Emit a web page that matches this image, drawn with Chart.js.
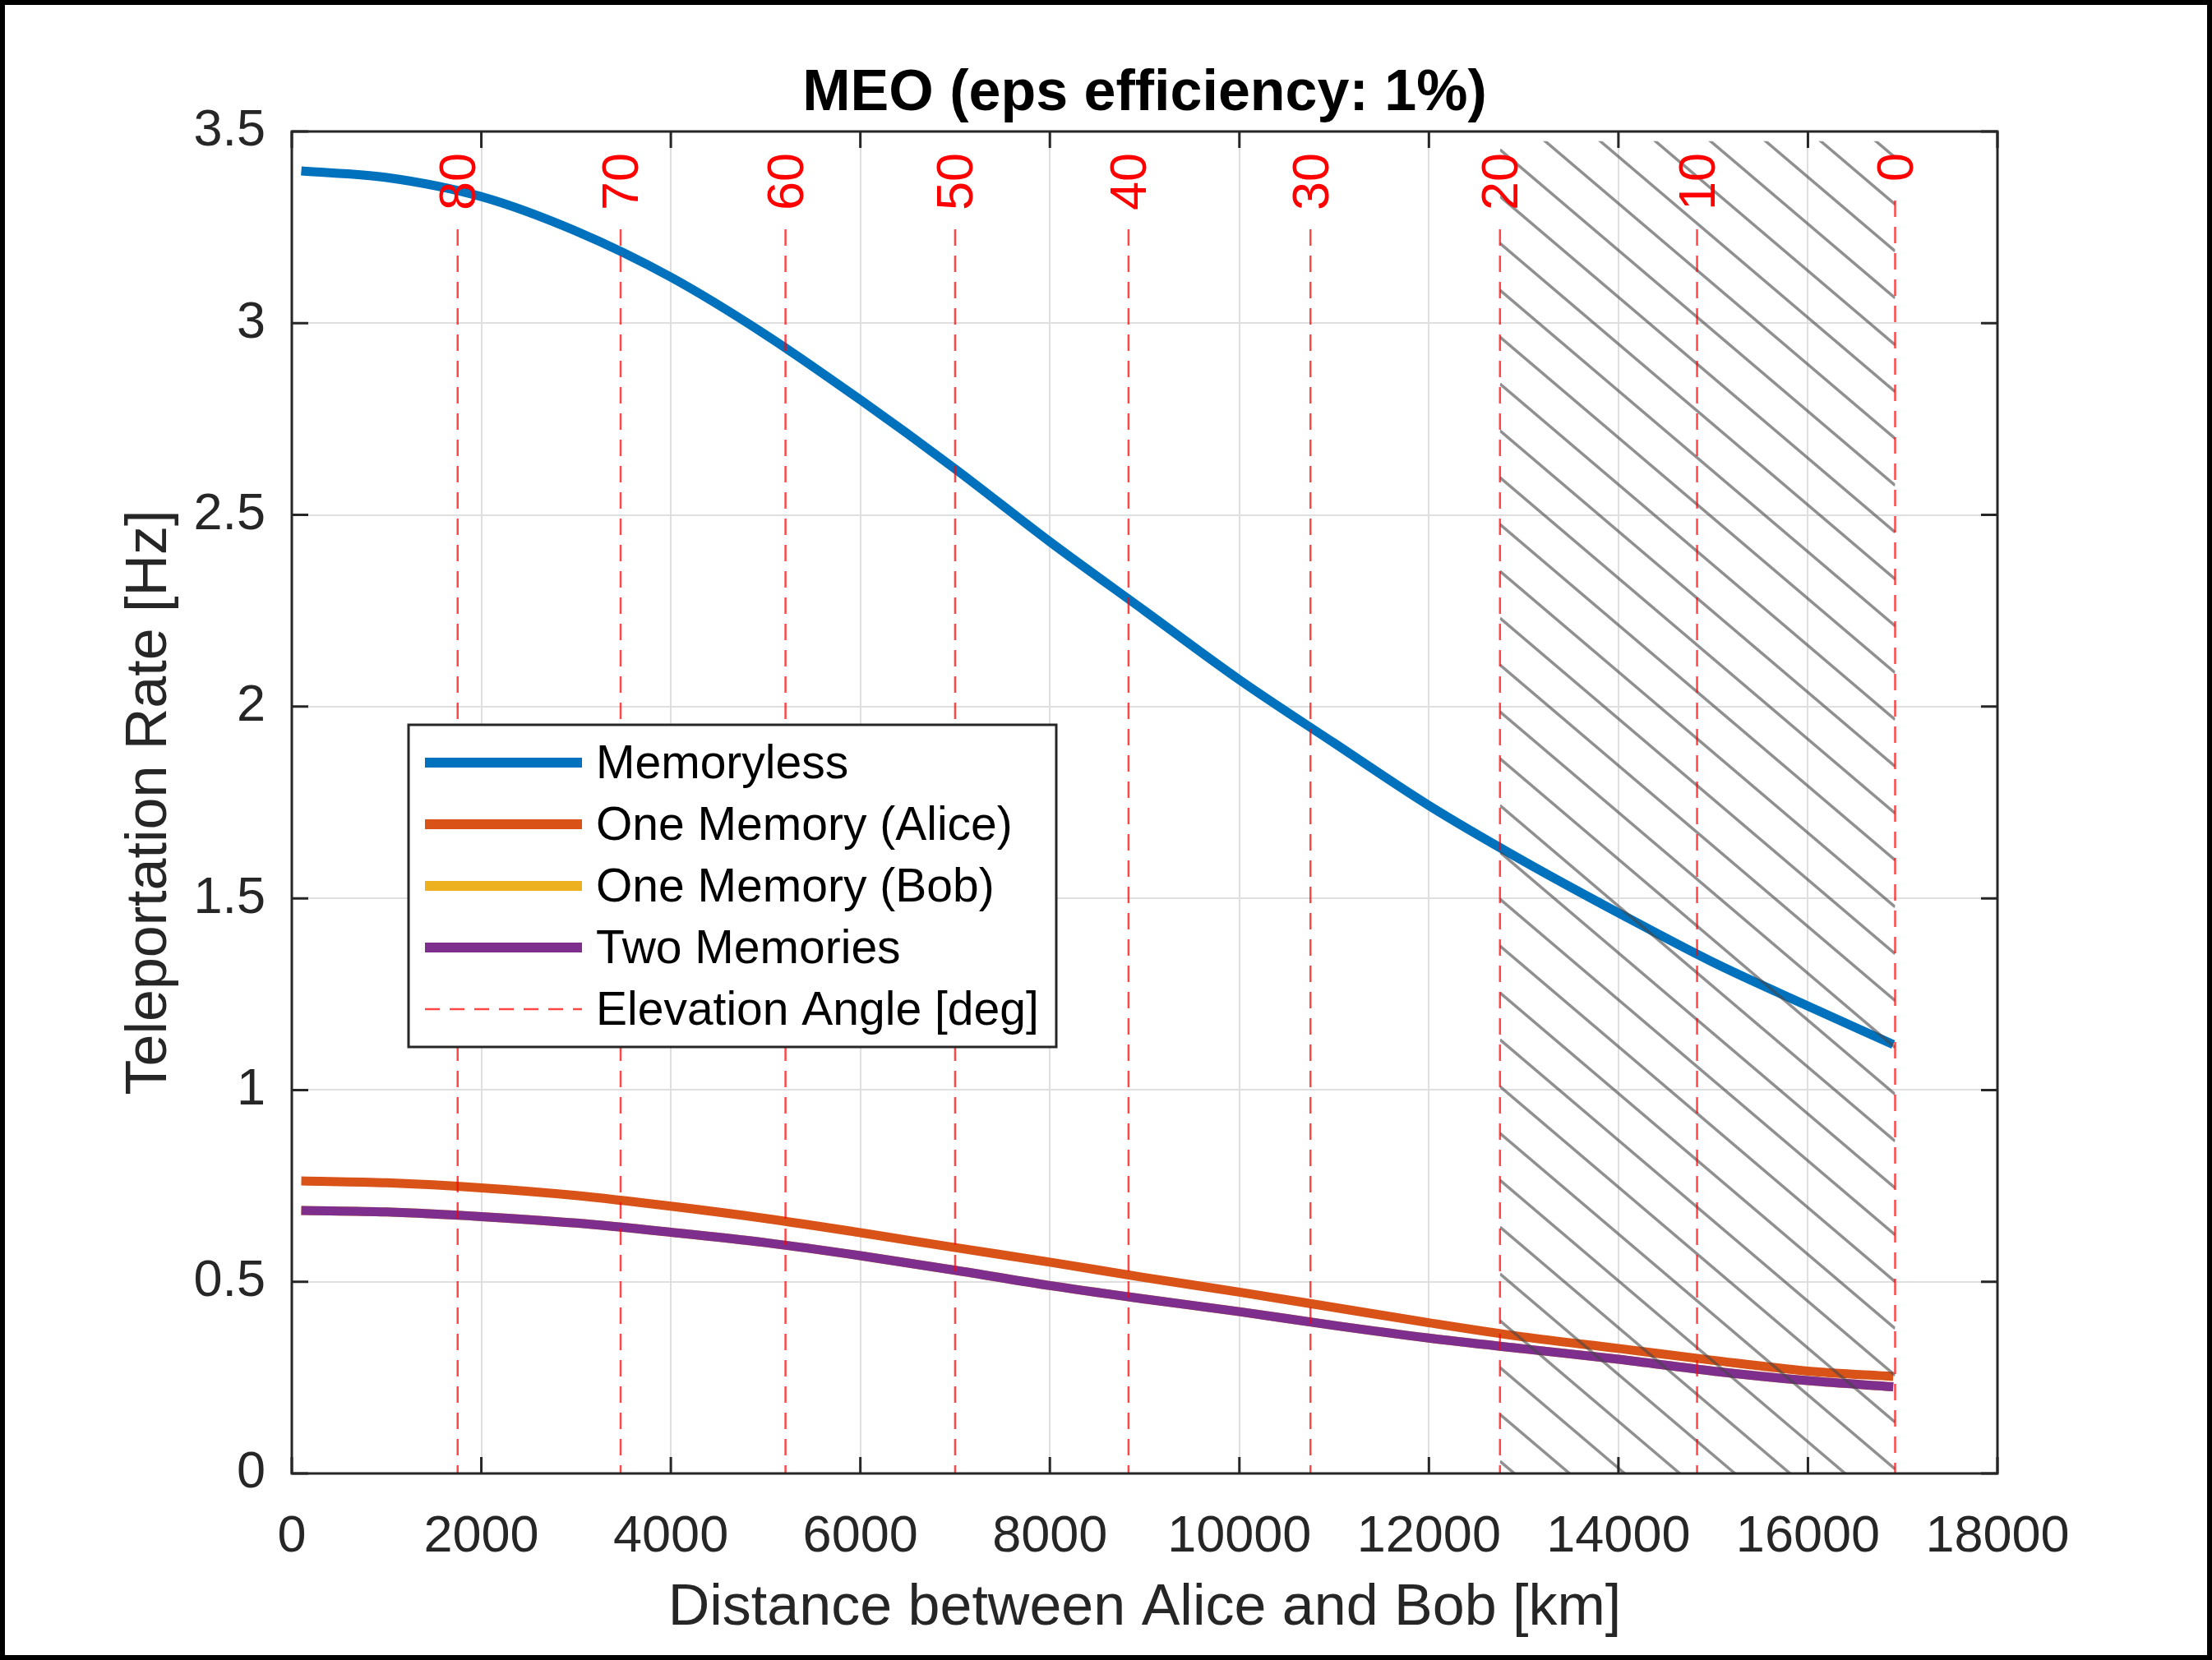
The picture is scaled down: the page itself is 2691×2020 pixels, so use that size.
<!DOCTYPE html>
<html>
<head>
  <meta charset="utf-8">
  <script src="https://cdn.jsdelivr.net/npm/chart.js"></script>
  <style>
    body { margin: 0; background: #fff; }
    canvas { display: block; }
  </style>
</head>
<body>
  <canvas id="myChart" width="2691" height="2020"></canvas>

  <script>
    // distance between Alice and Bob [km]
    var distances   = [100, 1000, 2000, 3000, 4000, 5000, 6000, 7000, 8000, 9000, 10000, 11000, 12000, 13000, 14000, 15000, 16000, 16900];
    // teleportation rate [Hz]
    var memoryless  = [3.397, 3.38, 3.33, 3.24, 3.12, 2.97, 2.80, 2.62, 2.43, 2.25, 2.07, 1.905, 1.742, 1.597, 1.462, 1.333, 1.219, 1.119];
    var oneMemAlice = [0.763, 0.758, 0.745, 0.725, 0.697, 0.665, 0.628, 0.589, 0.551, 0.511, 0.473, 0.433, 0.393, 0.356, 0.326, 0.295, 0.267, 0.253];
    var oneMemBob   = [0.686, 0.682, 0.670, 0.653, 0.629, 0.602, 0.568, 0.530, 0.490, 0.455, 0.422, 0.386, 0.353, 0.325, 0.298, 0.267, 0.242, 0.226];
    var twoMemories = [0.686, 0.682, 0.670, 0.653, 0.629, 0.602, 0.568, 0.530, 0.490, 0.455, 0.422, 0.386, 0.353, 0.325, 0.298, 0.267, 0.242, 0.226];

    // elevation angle markers [deg] and where they fall [km]
    var elevAngles    = [80, 70, 60, 50, 40, 30, 20, 10, 0];
    var elevDistances = [1750, 3470, 5210, 7000, 8830, 10750, 12750, 14830, 16920];

    // hatched region (below 20 deg elevation)
    var hatchRange = [12750, 16920];
    var hatchTop = 3.475;

    var xTicks = [0, 2000, 4000, 6000, 8000, 10000, 12000, 14000, 16000, 18000];
    var yTicks = [0, 0.5, 1, 1.5, 2, 2.5, 3, 3.5];

    var titleText = 'MEO (eps efficiency: 1%)';
    var elevLabel = 'Elevation Angle [deg]';

    var FONT = '"Liberation Sans", Arial, Helvetica, sans-serif';
    var AXIS_COLOR = '#262626';
    var ELEV_COLOR = 'rgba(255, 0, 0, 0.72)';

    function toPoints(values) {
      return distances.map(function (d, i) { return { x: d, y: values[i] }; });
    }

    // everything MATLAB draws that Chart.js doesn't: hatch, xlines, box, inward ticks, legend
    var matlabLook = {
      id: 'matlabLook',
      beforeDraw: function (chart) {
        var ctx = chart.ctx;
        ctx.save();
        ctx.fillStyle = '#fff';
        ctx.fillRect(0, 0, chart.width, chart.height);
        ctx.restore();
      },
      afterDatasetsDraw: function (chart) {
        var ctx = chart.ctx, area = chart.chartArea;
        var xs = chart.scales.x, ys = chart.scales.y;

        // hatch
        var hx0 = xs.getPixelForValue(hatchRange[0]);
        var hx1 = xs.getPixelForValue(hatchRange[1]);
        var hy0 = ys.getPixelForValue(hatchTop);
        var hy1 = ys.getPixelForValue(0);
        var slope = 0.85, step = 57, phase = 20;
        ctx.save();
        ctx.beginPath();
        ctx.rect(hx0, hy0, hx1 - hx0, hy1 - hy0);
        ctx.clip();
        ctx.strokeStyle = 'rgba(70, 70, 70, 0.6)';
        ctx.lineWidth = 3.5;
        ctx.beginPath();
        for (var c = hy0 + phase - slope * (hx1 - hx0) - step * 2; c < hy1 + step; c += step) {
          ctx.moveTo(hx0, c);
          ctx.lineTo(hx1, c + slope * (hx1 - hx0));
        }
        ctx.stroke();
        ctx.restore();

        // elevation lines with labels
        ctx.save();
        ctx.font = '63px ' + FONT;
        var labelTop = area.top + 26;
        elevAngles.forEach(function (a, i) {
          var x = xs.getPixelForValue(elevDistances[i]);
          var txt = String(a);
          var w = ctx.measureText(txt).width;
          ctx.strokeStyle = ELEV_COLOR;
          ctx.lineWidth = 2.5;
          ctx.setLineDash([20, 12]);
          ctx.beginPath();
          ctx.moveTo(x, labelTop + w + 23);
          ctx.lineTo(x, area.bottom);
          ctx.stroke();
          ctx.setLineDash([]);

          ctx.save();
          ctx.translate(x + 4, labelTop);
          ctx.rotate(-Math.PI / 2);
          ctx.fillStyle = '#ff0000';
          ctx.textAlign = 'right';
          ctx.textBaseline = 'middle';
          ctx.fillText(txt, 0, 0);
          ctx.restore();
        });
        ctx.restore();
      },
      afterDraw: function (chart) {
        var ctx = chart.ctx, area = chart.chartArea;
        var xs = chart.scales.x, ys = chart.scales.y;

        // box and inward ticks
        ctx.save();
        ctx.strokeStyle = AXIS_COLOR;
        ctx.lineWidth = 3;
        ctx.strokeRect(area.left, area.top, area.right - area.left, area.bottom - area.top);
        ctx.beginPath();
        xTicks.forEach(function (v) {
          var x = xs.getPixelForValue(v);
          ctx.moveTo(x, area.bottom); ctx.lineTo(x, area.bottom - 20);
          ctx.moveTo(x, area.top); ctx.lineTo(x, area.top + 20);
        });
        yTicks.forEach(function (v) {
          var y = ys.getPixelForValue(v);
          ctx.moveTo(area.left, y); ctx.lineTo(area.left + 20, y);
          ctx.moveTo(area.right, y); ctx.lineTo(area.right - 20, y);
        });
        ctx.stroke();
        ctx.restore();

        // legend
        var box = { x: 497, y: 882, w: 788, h: 392 };
        ctx.save();
        ctx.fillStyle = '#fff';
        ctx.fillRect(box.x, box.y, box.w, box.h);
        ctx.strokeStyle = AXIS_COLOR;
        ctx.lineWidth = 3;
        ctx.strokeRect(box.x, box.y, box.w, box.h);
        var entries = chart.data.datasets.map(function (ds) {
          return { text: ds.label, color: ds.borderColor, dash: [] };
        });
        entries.push({ text: elevLabel, color: ELEV_COLOR, dash: [18, 12] });
        ctx.font = '57px ' + FONT;
        ctx.textBaseline = 'middle';
        ctx.fillStyle = '#000';
        entries.forEach(function (e, i) {
          var y = box.y + 46 + i * 75;
          ctx.strokeStyle = e.color;
          ctx.lineWidth = e.dash.length ? 2.5 : 12;
          ctx.setLineDash(e.dash);
          ctx.beginPath();
          ctx.moveTo(box.x + 20, y);
          ctx.lineTo(box.x + 211, y);
          ctx.stroke();
          ctx.setLineDash([]);
          ctx.fillText(e.text, box.x + 228, y + 3);
        });
        ctx.restore();

        // title
        ctx.save();
        ctx.font = 'bold 70px ' + FONT;
        ctx.fillStyle = '#000';
        ctx.textAlign = 'center';
        ctx.textBaseline = 'alphabetic';
        ctx.fillText(titleText, (area.left + area.right) / 2, 134);
        ctx.restore();

        // figure frame
        ctx.save();
        ctx.strokeStyle = '#000';
        ctx.lineWidth = 6;
        ctx.strokeRect(3, 3, chart.width - 6, chart.height - 6);
        ctx.restore();
      }
    };

    var ctx = document.getElementById('myChart').getContext('2d');
    var myChart = new Chart(ctx, {
      type: 'line',
      data: {
        datasets: [
          { label: 'Memoryless',         data: toPoints(memoryless),  borderColor: '#0072BD', order: 3 },
          { label: 'One Memory (Alice)', data: toPoints(oneMemAlice), borderColor: '#D95319', order: 2 },
          { label: 'One Memory (Bob)',   data: toPoints(oneMemBob),   borderColor: '#EDB120', order: 1 },
          { label: 'Two Memories',       data: toPoints(twoMemories), borderColor: '#7E2F8E', order: 0 }
        ]
      },
      options: {
        responsive: false,
        animation: false,
        devicePixelRatio: 1,
        layout: { padding: { left: 0, top: 160, right: 261, bottom: 0 } },
        elements: {
          point: { radius: 0 },
          line: { borderWidth: 11, fill: false, cubicInterpolationMode: 'monotone', borderCapStyle: 'butt' }
        },
        plugins: {
          legend: { display: false },
          tooltip: { enabled: false },
          title: { display: false }
        },
        scales: {
          x: {
            type: 'linear',
            min: 0,
            max: 18000,
            afterFit: function (scale) { scale.height = 227; },
            afterBuildTicks: function (scale) { scale.ticks = xTicks.map(function (v) { return { value: v }; }); },
            grid: { color: '#dfdfdf', lineWidth: 2, drawTicks: false },
            border: { display: false },
            ticks: {
              padding: 40,
              color: AXIS_COLOR,
              font: { family: FONT, size: 63 },
              maxRotation: 0,
              autoSkip: false,
              callback: function (v) { return String(v); }
            },
            title: {
              display: true,
              text: 'Distance between Alice and Bob [km]',
              color: AXIS_COLOR,
              font: { family: FONT, size: 70 },
              padding: { top: 0, bottom: 20 }
            }
          },
          y: {
            type: 'linear',
            min: 0,
            max: 3.5,
            afterFit: function (scale) { scale.width = 355; },
            afterBuildTicks: function (scale) { scale.ticks = yTicks.map(function (v) { return { value: v }; }); },
            grid: { color: '#dfdfdf', lineWidth: 2, drawTicks: false },
            border: { display: false },
            ticks: {
              padding: 32,
              color: AXIS_COLOR,
              font: { family: FONT, size: 63 },
              autoSkip: false,
              callback: function (v) { return String(v); }
            },
            title: {
              display: true,
              text: 'Teleportation Rate [Hz]',
              color: AXIS_COLOR,
              font: { family: FONT, size: 70 },
              padding: { top: 141, bottom: 0 }
            }
          }
        }
      },
      plugins: [matlabLook]
    });
  </script>
</body>
</html>
